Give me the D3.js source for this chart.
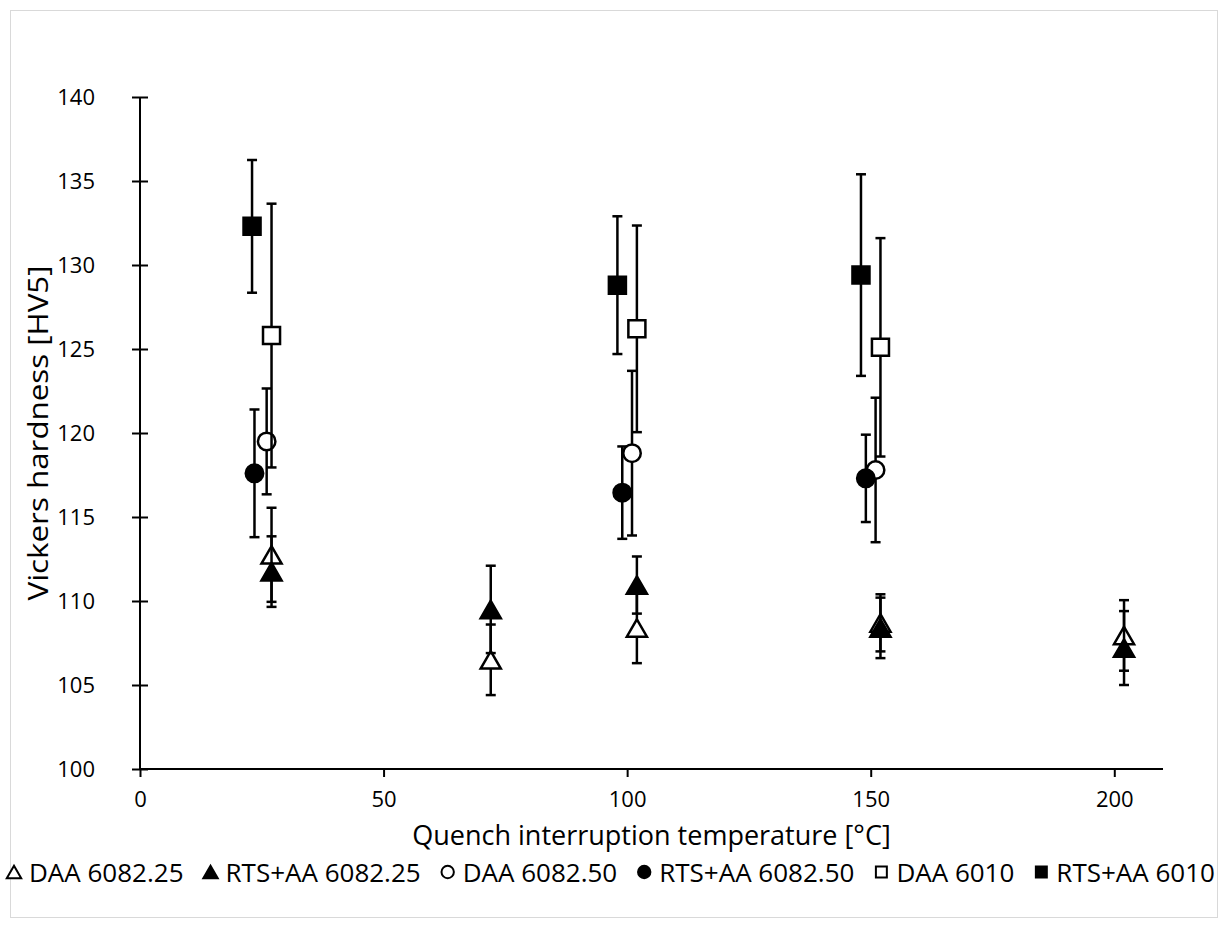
<!DOCTYPE html>
<html>
<head>
<meta charset="utf-8">
<script src="https://cdnjs.cloudflare.com/ajax/libs/d3/7.8.5/d3.min.js"></script>
<style>
  body { margin: 0; background: #fff; }
  text { font-family: "Open Sans", "Noto Sans", sans-serif; fill: #000; }
</style>
</head>
<body>
<div id="chart"></div>
<script>
const w = 1223;
const h = 929;

// tick labels
const xTicks = [0, 50, 100, 150, 200];
const yTicks = [100, 105, 110, 115, 120, 125, 130, 135, 140];

// series (temperature, hardness, error)
const daa25X = [27, 72, 102, 152, 202];
const daa25Y = [112.75, 106.5, 108.4, 108.7, 107.95];
const daa25E = [2.8, 2.1, 2.1, 1.7, 2.1];

const rts25X = [27, 72, 102, 152, 202];
const rts25Y = [111.75, 109.5, 110.95, 108.4, 107.2];
const rts25E = [2.1, 2.6, 1.7, 1.8, 2.2];

const daa50X = [26, 101, 151];
const daa50Y = [119.5, 118.8, 117.8];
const daa50E = [3.15, 4.9, 4.3];

const rts50X = [23.5, 99, 149];
const rts50Y = [117.6, 116.45, 117.3];
const rts50E = [3.8, 2.75, 2.6];

const daa6010X = [27, 102, 152];
const daa6010Y = [125.8, 126.2, 125.1];
const daa6010E = [7.85, 6.15, 6.5];

const rts6010X = [23, 98, 148];
const rts6010Y = [132.3, 128.8, 129.4];
const rts6010E = [3.95, 4.1, 6.0];

const series = [
  {name: "DAA 6082.25", x: daa25X, y: daa25Y, e: daa25E, sym: d3.symbolTriangle, fill: "#fff"},
  {name: "RTS+AA 6082.25", x: rts25X, y: rts25Y, e: rts25E, sym: d3.symbolTriangle, fill: "#000"},
  {name: "DAA 6082.50", x: daa50X, y: daa50Y, e: daa50E, sym: d3.symbolCircle, fill: "#fff"},
  {name: "RTS+AA 6082.50", x: rts50X, y: rts50Y, e: rts50E, sym: d3.symbolCircle, fill: "#000"},
  {name: "DAA 6010", x: daa6010X, y: daa6010Y, e: daa6010E, sym: d3.symbolSquare, fill: "#fff"},
  {name: "RTS+AA 6010", x: rts6010X, y: rts6010Y, e: rts6010E, sym: d3.symbolSquare, fill: "#000"}
];

const svg = d3.select("#chart").append("svg")
  .attr("width", w)
  .attr("height", h);

// chart frame
svg.append("rect")
  .attr("x", 10.5).attr("y", 10.5)
  .attr("width", 1207).attr("height", 907)
  .attr("fill", "#fff")
  .attr("stroke", "#d9d9d9");

const xScale = d3.scaleLinear().domain([0, 210]).range([140, 1163]);
const yScale = d3.scaleLinear().domain([100, 140]).range([769, 97]);

// Y axis
const yAxis = d3.axisLeft(yScale).tickValues(yTicks).tickSize(0).tickPadding(45);
const gy = svg.append("g").attr("transform", "translate(140,0)").call(yAxis);
gy.select(".domain").remove();
gy.selectAll("text").style("font-size", "22px");
gy.selectAll(".tick").append("line")
  .attr("x1", -8).attr("x2", 8)
  .attr("stroke", "#000").attr("stroke-width", 2);
gy.append("line")
  .attr("y1", yScale(100)).attr("y2", yScale(140))
  .attr("stroke", "#000").attr("stroke-width", 2);

// X axis
const xAxis = d3.axisBottom(xScale).tickValues(xTicks).tickSize(8).tickPadding(14);
const gx = svg.append("g").attr("transform", "translate(0,769)").call(xAxis);
gx.select(".domain").attr("stroke-width", 2).attr("d", `M${xScale(0)},0H${xScale(210)}`);
gx.selectAll(".tick line").attr("stroke-width", 2);
gx.selectAll("text").style("font-size", "22px");

// axis titles
svg.append("text")
  .attr("transform", `translate(48,${(yScale(100) + yScale(140)) / 2}) rotate(-90)`)
  .attr("text-anchor", "middle")
  .attr("textLength", 335)
  .attr("lengthAdjust", "spacingAndGlyphs")
  .style("font-size", "28px")
  .text("Vickers hardness [HV5]");

svg.append("text")
  .attr("x", (xScale(0) + xScale(210)) / 2)
  .attr("y", 845)
  .attr("text-anchor", "middle")
  .style("font-size", "27px")
  .text("Quench interruption temperature [°C]");

const capW = 5;

function markerPath(sym, size) {
  return d3.symbol().type(sym).size(size)();
}
function sizeFor(sym) {
  if (sym === d3.symbolSquare) return 290;
  if (sym === d3.symbolCircle) return 240;
  return 175;
}

// points and error bars
series.forEach(s => {
  const pts = s.x.map((x, i) => ({x: x, y: s.y[i], e: s.e[i]}));
  const g = svg.append("g");
  const eb = g.selectAll(".err").data(pts).enter().append("g")
    .attr("stroke", "#000").attr("stroke-width", 2.5);
  eb.append("line")
    .attr("x1", d => xScale(d.x)).attr("x2", d => xScale(d.x))
    .attr("y1", d => yScale(d.y - d.e)).attr("y2", d => yScale(d.y + d.e));
  eb.append("line")
    .attr("x1", d => xScale(d.x) - capW).attr("x2", d => xScale(d.x) + capW)
    .attr("y1", d => yScale(d.y + d.e)).attr("y2", d => yScale(d.y + d.e));
  eb.append("line")
    .attr("x1", d => xScale(d.x) - capW).attr("x2", d => xScale(d.x) + capW)
    .attr("y1", d => yScale(d.y - d.e)).attr("y2", d => yScale(d.y - d.e));

  g.selectAll(".pt").data(pts).enter().append("path")
    .attr("d", markerPath(s.sym, sizeFor(s.sym)))
    .attr("transform", d => `translate(${xScale(d.x)},${yScale(d.y) + (s.sym === d3.symbolTriangle ? 3 : 0)})`)
    .attr("fill", s.fill)
    .attr("stroke", "#000")
    .attr("stroke-width", 2.5);
});

// legend, laid out left to right
const lg = svg.append("g").attr("transform", "translate(0,872)");
let cx = 14;
series.forEach((s, i) => {
  const item = lg.append("g").attr("transform", `translate(${cx},0)`);
  item.append("path")
    .attr("d", markerPath(s.sym, s.sym === d3.symbolTriangle ? 90 : 120))
    .attr("transform", `translate(0,${s.sym === d3.symbolTriangle ? 2 : 0})`)
    .attr("fill", s.fill)
    .attr("stroke", "#000")
    .attr("stroke-width", 2);
  const t = item.append("text")
    .attr("x", 15)
    .attr("y", 10)
    .style("font-size", "26px")
    .text(s.name);
  cx += 15 + t.node().getComputedTextLength() + 27;
});
</script>
</body>
</html>
